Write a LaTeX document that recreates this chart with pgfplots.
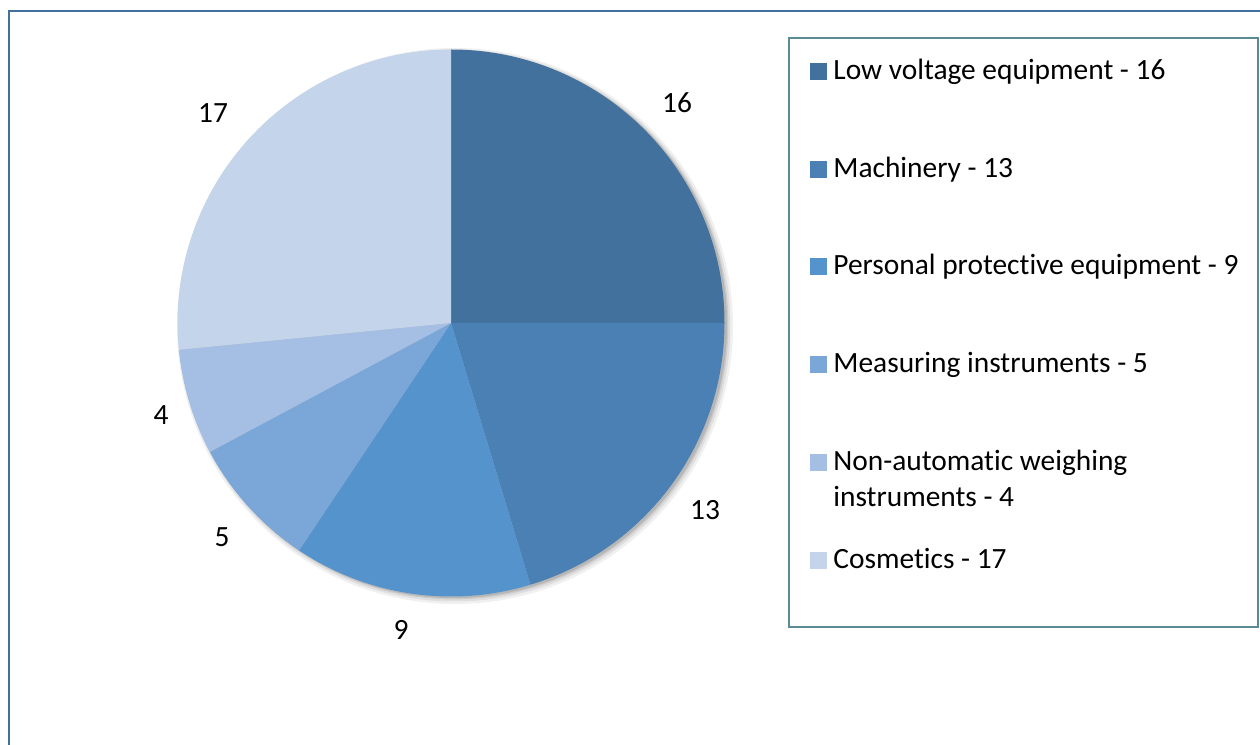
\documentclass[border=0pt]{standalone}
\usepackage{pgfplots}
\pgfplotsset{compat=1.18}
\usepackage{fontspec}
\setmainfont{Carlito}[RawFeature={-liga;-clig;-calt;-dlig}]
\newcommand\ti{t\kern0pt i}
\definecolor{cA}{HTML}{41719C}
\definecolor{cB}{HTML}{4A80B4}
\definecolor{cC}{HTML}{5593CC}
\definecolor{cD}{HTML}{7AA7D8}
\definecolor{cE}{HTML}{A4BFE3}
\definecolor{cF}{HTML}{C4D4EA}
\definecolor{frame}{HTML}{41719C}
\definecolor{lframe}{HTML}{5B8C96}
% data
\def\vA{16}\def\vB{13}\def\vC{9}\def\vD{5}\def\vE{4}\def\vF{17}
\pgfmathsetmacro\tot{\vA+\vB+\vC+\vD+\vE+\vF}
\pgfmathsetmacro\aA{90}
\pgfmathsetmacro\aB{\aA-\vA/\tot*360}
\pgfmathsetmacro\aC{\aB-\vB/\tot*360}
\pgfmathsetmacro\aD{\aC-\vC/\tot*360}
\pgfmathsetmacro\aE{\aD-\vD/\tot*360}
\pgfmathsetmacro\aF{\aE-\vE/\tot*360}
\pgfmathsetmacro\aG{\aF-\vF/\tot*360}
\def\R{136.75pt}
\newcommand\fs{\fontsize{14.7}{17.9}\selectfont}
\begin{document}
\begin{tikzpicture}
\begin{axis}[
  scale only axis, width=630pt, height=372.5pt,
  xmin=0, xmax=1260, ymin=-745, ymax=0,
  hide axis, clip=true,
]
\coordinate (BL) at (axis cs:0,-745);
\coordinate (TR) at (axis cs:1260,0);
% outer frame
\draw[frame, line width=1pt] (axis cs:1260,-11) -- (axis cs:8.5,-11) -- (axis cs:8.5,-745);
% shadow
\fill[black, opacity=0.06] (axis cs:455,-326) circle[radius=139pt];
\fill[black, opacity=0.07] (axis cs:454.5,-325.5) circle[radius=138pt];
\fill[black, opacity=0.09] (axis cs:454,-325) circle[radius=137.2pt];
\fill[black, opacity=0.10] (axis cs:453.5,-324.5) circle[radius=136.8pt];
% slices
\fill[cA] (axis cs:451,-323) -- ++(\aA:\R) arc[start angle=\aA, end angle=\aB, radius=\R] -- cycle;
\fill[cB] (axis cs:451,-323) -- ++(\aB:\R) arc[start angle=\aB, end angle=\aC, radius=\R] -- cycle;
\fill[cC] (axis cs:451,-323) -- ++(\aC:\R) arc[start angle=\aC, end angle=\aD, radius=\R] -- cycle;
\fill[cD] (axis cs:451,-323) -- ++(\aD:\R) arc[start angle=\aD, end angle=\aE, radius=\R] -- cycle;
\fill[cE] (axis cs:451,-323) -- ++(\aE:\R) arc[start angle=\aE, end angle=\aF, radius=\R] -- cycle;
\fill[cF] (axis cs:451,-323) -- ++(\aF:\R) arc[start angle=\aF, end angle=\aG, radius=\R] -- cycle;
% data labels
\node[font=\fs] at (axis cs:677,-103) {\vA};
\node[font=\fs] at (axis cs:705,-510) {\vB};
\node[font=\fs] at (axis cs:401,-630) {\vC};
\node[font=\fs] at (axis cs:222,-537) {\vD};
\node[font=\fs] at (axis cs:161,-415) {\vE};
\node[font=\fs] at (axis cs:213,-113) {\vF};
% legend
\draw[lframe, line width=0.75pt] (axis cs:789,-38) rectangle (axis cs:1258,-627);
\fill[cA] (axis cs:810,-63) rectangle (axis cs:827,-80);
\node[font=\fs, anchor=base west, inner sep=0pt] at (axis cs:833,-80) {Low voltage equipment - \vA};
\fill[cB] (axis cs:810,-161) rectangle (axis cs:827,-178);
\node[font=\fs, anchor=base west, inner sep=0pt] at (axis cs:833,-178) {Machinery - \vB};
\fill[cC] (axis cs:810,-258) rectangle (axis cs:827,-275);
\node[font=\fs, anchor=base west, inner sep=0pt] at (axis cs:833,-275) {Personal protec\ti ve equipment - \vC};
\fill[cD] (axis cs:810,-356) rectangle (axis cs:827,-373);
\node[font=\fs, anchor=base west, inner sep=0pt] at (axis cs:833,-373) {Measuring instruments - \vD};
\fill[cE] (axis cs:810,-454) rectangle (axis cs:827,-471);
\node[font=\fs, anchor=base west, inner sep=0pt] at (axis cs:833,-471) {Non-automa\ti c weighing};
\node[font=\fs, anchor=base west, inner sep=0pt] at (axis cs:833,-507) {instruments - \vE};
\fill[cF] (axis cs:810,-552) rectangle (axis cs:827,-569);
\node[font=\fs, anchor=base west, inner sep=0pt] at (axis cs:833,-569) {Cosme\ti cs - \vF};
\end{axis}
\pgfresetboundingbox
\useasboundingbox (BL) rectangle (TR);
\end{tikzpicture}
\end{document}
